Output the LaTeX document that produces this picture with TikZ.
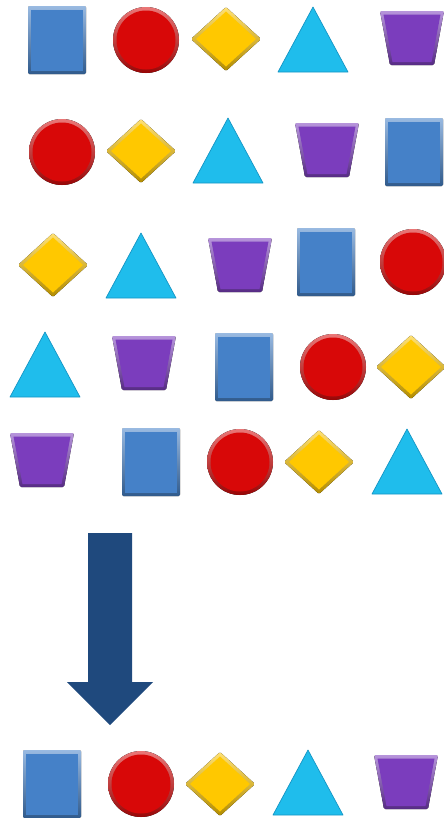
\documentclass[tikz,border=0pt]{standalone}
\definecolor{blueface}{HTML}{4581C8}
\definecolor{blueedge}{HTML}{2F62A3}
\definecolor{redface}{HTML}{D80808}
\definecolor{rededge}{HTML}{A80000}
\definecolor{goldface}{HTML}{FFC800}
\definecolor{goldedge}{HTML}{D9A000}
\definecolor{cyanface}{HTML}{1FBDEC}
\definecolor{cyanedge}{HTML}{1595C4}
\definecolor{purpleface}{HTML}{7B3DBD}
\definecolor{purpleedge}{HTML}{5B2A92}
\definecolor{navyarrow}{HTML}{1F497D}

\begin{document}
\begin{tikzpicture}[x=0.025cm,y=-0.025cm,
    bevel/.style={top color=#1!55!white, bottom color=#1!70!black},
    pics/bluesq/.style={code={
        \fill[bevel=blueface,rounded corners=1pt] (-29,-34) rectangle (29,34);
        \fill[blueface] (-26,-30) rectangle (26,31);}},
    pics/redball/.style={code={
        \fill[bevel=redface] (0,0) circle (33);
        \fill[redface] (0,0) circle (29.5);}},
    pics/golddia/.style={code={
        \fill[bevel=goldface,rounded corners=1pt] (-35,0) -- (0,-32) -- (35,0) -- (0,32) -- cycle;
        \fill[goldface] (-30,0) -- (0,-27.5) -- (30,0) -- (0,27.5) -- cycle;}},
    pics/cyantri/.style={code={
        \fill[cyanface,draw=cyanedge,line width=0.5pt,line join=round] (-35,32) -- (0,-33) -- (35,32) -- cycle;}},
    pics/purpletrap/.style={code={
        \fill[bevel=purpleface,rounded corners=1pt] (-32,-27) -- (32,-27) -- (22,27) -- (-22,27) -- cycle;
        \fill[purpleface] (-28.5,-23.5) -- (28.5,-23.5) -- (19.5,24) -- (-19.5,24) -- cycle;}}]
    % Page size
    \useasboundingbox (0,0) rectangle (444,818);
    % Five shuffled rows
    \foreach \s/\x/\y in {bluesq/57/40, redball/146/40, golddia/226/39, cyantri/313/40, purpletrap/412/38,
                          redball/62/152, golddia/141/151, cyantri/228/151, purpletrap/327/150, bluesq/414/152,
                          golddia/53/265, cyantri/141/266, purpletrap/240/265, bluesq/326/262, redball/413/262,
                          cyantri/45/365, purpletrap/144/363, bluesq/244/367, redball/333/367, golddia/411/367,
                          purpletrap/42/460, bluesq/151/462, redball/240/462, golddia/319/462, cyantri/407/462}
        \pic at (\x,\y) {\s};
    % Block arrow
    \fill[navyarrow] (88,533) -- (132,533) -- (132,682) -- (153,682) -- (110,725)
        -- (67,682) -- (88,682) -- cycle;
    % Result row
    \foreach \s/\x/\y in {bluesq/52/784, redball/141/784, golddia/220/784, cyantri/308/783, purpletrap/406/782}
        \pic at (\x,\y) {\s};
\end{tikzpicture}
\end{document}
